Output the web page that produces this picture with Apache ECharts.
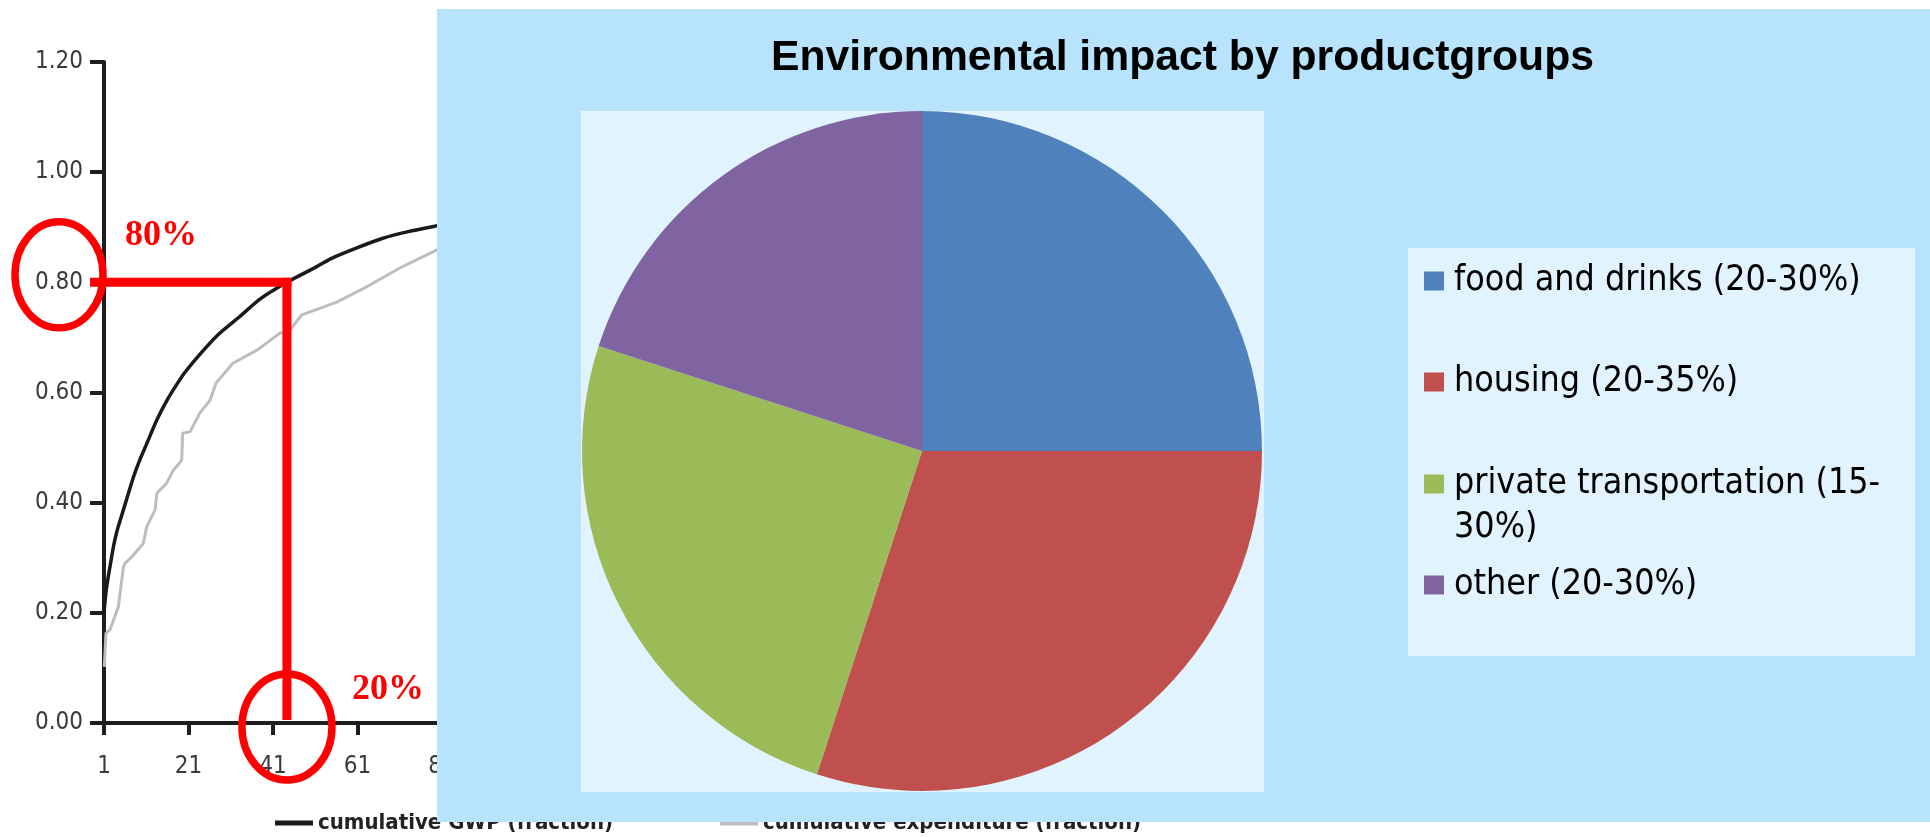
<!DOCTYPE html>
<html>
<head>
<meta charset="utf-8">
<script src="https://cdn.jsdelivr.net/npm/echarts@6/dist/echarts.min.js"></script>
<style>
html,body{margin:0;padding:0;background:#ffffff;}
#c{width:1930px;height:837px;}
</style>
</head>
<body>
<div id="c"></div>
<script>
// ---------- data: left chart (cumulative curves) ----------
const gwpName = 'cumulative GWP (fraction)';
const expName = 'cumulative expenditure (fraction)';
const gwpRank  = [1, 1.5, 2, 2.4, 3, 3.5, 4.2, 5, 6.5, 8, 9.5, 11, 13.5, 16, 18, 20, 24, 28, 33, 38, 44.3, 50, 55, 61, 67, 73, 80, 90, 101];
const gwpValue = [0.20, 0.24, 0.265, 0.283, 0.31, 0.33, 0.352, 0.372, 0.41, 0.447, 0.478, 0.505, 0.55, 0.587, 0.612, 0.635, 0.672, 0.705, 0.737, 0.77, 0.80, 0.823, 0.844, 0.863, 0.88, 0.892, 0.903, 0.918, 0.93];
const expRank  = [1.07, 1.47, 2.4, 4.4, 5.6, 6, 7.6, 10.3, 11.1, 13.1, 13.5, 15.8, 17.4, 19.4, 19.6, 21.4, 23.7, 26.1, 27.5, 31.5, 37.2, 42.7, 45, 47.8, 56.1, 63.2, 71, 79.8, 90, 101];
const expValue = [0.102, 0.163, 0.169, 0.211, 0.284, 0.29, 0.302, 0.326, 0.356, 0.387, 0.417, 0.435, 0.459, 0.477, 0.526, 0.529, 0.563, 0.586, 0.617, 0.653, 0.677, 0.708, 0.713, 0.741, 0.764, 0.792, 0.826, 0.859, 0.88, 0.9];
const xTickValues = [1, 21, 41, 61, 81, 101];
// annotation values
const markRank = 44.3;
const markShare = 0.80;
const markLabelY = '80%';
const markLabelX = '20%';

// ---------- data: pie ----------
const pieTitle = 'Environmental impact by productgroups';
const pieNames  = ['food and drinks (20-30%)', 'housing (20-35%)', 'private transportation (15-30%)', 'other (20-30%)'];
const pieValues = [25, 30, 25, 20];
const pieColors = ['#4F81BD', '#C0504D', '#9BBB59', '#8064A2'];

// ---------- styling / layout ----------
const NARROW = '"DejaVu Sans Condensed", "DejaVu Sans", sans-serif';
const LEGEND_FONT = '"DejaVu Sans Condensed", "DejaVu Sans", sans-serif';
const legendCenters = [281, 382, 484, 585];
const legendLine = 44;

const chart = echarts.init(document.getElementById('c'), null, {renderer: 'canvas'});

function legendText(n) {
  if (n === pieNames[2]) return '\n' + n.replace('(15-', '(15-\n');
  return n;
}

const pieLegends = pieNames.map((n, i) => {
  const lines = legendText(n).split('\n').length;
  return {
    data: [{name: n, icon: 'rect'}],
    orient: 'vertical',
    left: 1424,
    top: legendCenters[i] - lines * legendLine / 2,
    padding: 0,
    itemWidth: 20,
    itemHeight: 19,
    selectedMode: false,
    z: 21,
    formatter: legendText,
    textStyle: {fontFamily: LEGEND_FONT, fontSize: 35.5, color: '#000000', lineHeight: legendLine, padding: [0, 0, 0, 5]}
  };
});

const lineLegendText = {fontFamily: NARROW, fontWeight: 'bold', fontSize: 22, color: '#222222', lineHeight: 28};

const option = {
  animation: false,
  backgroundColor: '#ffffff',
  title: {
    text: pieTitle,
    left: 771,
    top: 33,
    padding: 0,
    z: 21,
    textStyle: {fontFamily: '"Liberation Sans", Arial, sans-serif', fontWeight: 'bold', fontSize: 42.7, color: '#000000', lineHeight: 50}
  },
  legend: [
    {
      data: [{name: gwpName, icon: 'rect'}], left: 275, top: 809, padding: 0,
      itemWidth: 38, itemHeight: 5, selectedMode: false, z: 1, textStyle: lineLegendText
    },
    {
      data: [{name: expName, icon: 'rect'}], left: 720, top: 809, padding: 0,
      itemWidth: 38, itemHeight: 5, selectedMode: false, z: 1, textStyle: lineLegendText
    }
  ].concat(pieLegends),
  grid: {left: 104, top: 62, width: 422.5, height: 661, containLabel: false},
  xAxis: {
    type: 'value', min: 1, max: 101,
    axisLine: {show: true, onZero: false, lineStyle: {color: '#1e1e1e', width: 4}},
    axisTick: {show: true, inside: false, length: 12, customValues: xTickValues, lineStyle: {color: '#1e1e1e', width: 4}},
    axisLabel: {customValues: xTickValues, margin: 32, fontFamily: NARROW, fontSize: 24, lineHeight: 24, color: '#3a3a3a'},
    splitLine: {show: false}
  },
  yAxis: {
    type: 'value', min: 0, max: 1.2, interval: 0.2,
    axisLine: {show: true, lineStyle: {color: '#1e1e1e', width: 4}},
    axisTick: {show: true, length: 14, lineStyle: {color: '#1e1e1e', width: 4}},
    axisLabel: {margin: 21, fontFamily: NARROW, fontSize: 24, color: '#3a3a3a', formatter: v => v.toFixed(2)},
    splitLine: {show: false}
  },
  series: [
    {
      name: expName, type: 'line', z: 2, showSymbol: false, symbol: 'none',
      data: expRank.map((r, i) => [r, expValue[i]]),
      color: '#bdbdbd', itemStyle: {color: '#bdbdbd'},
      lineStyle: {color: '#bdbdbd', width: 3},
      emphasis: {disabled: true}
    },
    {
      name: gwpName, type: 'line', z: 3, showSymbol: false, symbol: 'none',
      smooth: 0.25,
      data: gwpRank.map((r, i) => [r, gwpValue[i]]),
      color: '#1a1a1a', itemStyle: {color: '#1a1a1a'},
      lineStyle: {color: '#1a1a1a', width: 3.5},
      emphasis: {disabled: true}
    },
    {
      name: 'productgroups', type: 'pie', z: 20,
      center: [922, 451], radius: 340,
      startAngle: 90, clockwise: true,
      label: {show: false}, labelLine: {show: false},
      emphasis: {disabled: true},
      itemStyle: {borderWidth: 0},
      data: pieNames.map((n, i) => ({name: n, value: pieValues[i], itemStyle: {color: pieColors[i]}}))
    }
  ]
};

chart.setOption(option);

// annotation positions derived from the axes
const p = chart.convertToPixel({gridIndex: 0}, [markRank, markShare]);
const o = chart.convertToPixel({gridIndex: 0}, [1, 0]);
const RED = '#FF0000';

chart.setOption({
  graphic: {
    elements: [
      {id: 'panel', type: 'rect', z: 10, silent: true, shape: {x: 437, y: 9, width: 1493, height: 813}, style: {fill: '#B8E3FC'}},
      {id: 'plotArea', type: 'rect', z: 11, silent: true, shape: {x: 581, y: 111, width: 683, height: 681}, style: {fill: '#E1F3FE'}},
      {id: 'legendBox', type: 'rect', z: 11, silent: true, shape: {x: 1408, y: 248, width: 507, height: 408}, style: {fill: '#E1F3FE'}},
      {id: 'hLine', type: 'line', z: 6, silent: true, shape: {x1: o[0] - 14, y1: p[1], x2: p[0] + 4.5, y2: p[1]}, style: {stroke: RED, lineWidth: 9}},
      {id: 'vLine', type: 'line', z: 6, silent: true, shape: {x1: p[0], y1: p[1] - 4.5, x2: p[0], y2: o[1] - 3}, style: {stroke: RED, lineWidth: 9}},
      {id: 'ellY', type: 'ellipse', z: 6, silent: true, shape: {cx: o[0] - 45, cy: p[1] - 7.5, rx: 44, ry: 53}, style: {fill: null, stroke: RED, lineWidth: 7.5}},
      {id: 'ellX', type: 'ellipse', z: 6, silent: true, shape: {cx: p[0], cy: o[1] + 4, rx: 45, ry: 53}, style: {fill: null, stroke: RED, lineWidth: 7.5}},
      {id: 'txtY', type: 'text', z: 6, silent: true, x: o[0] + 21, y: p[1] - 46.5,
        style: {text: markLabelY, fill: RED, font: 'bold 36px "Liberation Serif", "Times New Roman", serif', align: 'left', verticalAlign: 'middle'}},
      {id: 'txtX', type: 'text', z: 6, silent: true, x: p[0] + 65, y: o[1] - 33.5,
        style: {text: markLabelX, fill: RED, font: 'bold 36px "Liberation Serif", "Times New Roman", serif', align: 'left', verticalAlign: 'middle'}}
    ]
  }
});
</script>
</body>
</html>
